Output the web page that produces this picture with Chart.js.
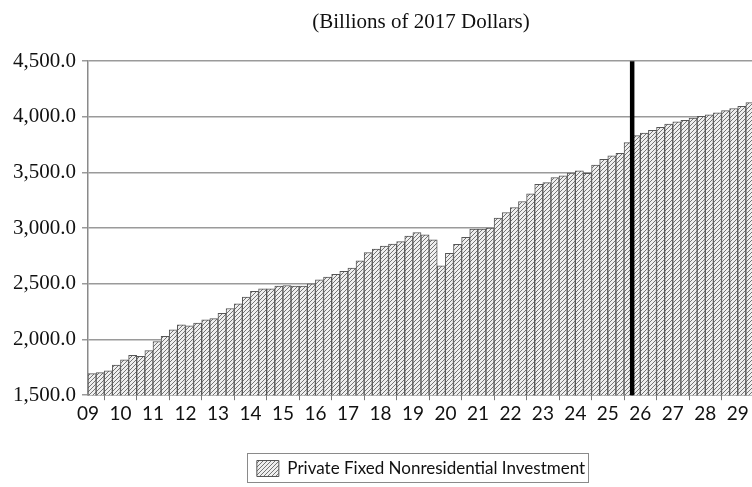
<!DOCTYPE html>
<html>
<head>
<meta charset="utf-8">
<script src="https://cdn.jsdelivr.net/npm/chart.js@4.4.1/dist/chart.umd.min.js"></script>
<style>
  html, body { margin: 0; padding: 0; background: #ffffff; overflow: hidden; width: 752px; height: 487px; }
  #wrap { width: 762px; height: 487px; }
</style>
</head>
<body>
<div id="wrap"><canvas id="c" width="762" height="487"></canvas></div>
<script>
// ---------- DATA ----------
const chartTitle = '(Billions of 2017 Dollars)';
const seriesName = 'Private Fixed Nonresidential Investment';

const quarterLabels = [
  '2009Q3','2009Q4',
  '2010Q1','2010Q2','2010Q3','2010Q4',
  '2011Q1','2011Q2','2011Q3','2011Q4',
  '2012Q1','2012Q2','2012Q3','2012Q4',
  '2013Q1','2013Q2','2013Q3','2013Q4',
  '2014Q1','2014Q2','2014Q3','2014Q4',
  '2015Q1','2015Q2','2015Q3','2015Q4',
  '2016Q1','2016Q2','2016Q3','2016Q4',
  '2017Q1','2017Q2','2017Q3','2017Q4',
  '2018Q1','2018Q2','2018Q3','2018Q4',
  '2019Q1','2019Q2','2019Q3','2019Q4',
  '2020Q1','2020Q2','2020Q3','2020Q4',
  '2021Q1','2021Q2','2021Q3','2021Q4',
  '2022Q1','2022Q2','2022Q3','2022Q4',
  '2023Q1','2023Q2','2023Q3','2023Q4',
  '2024Q1','2024Q2','2024Q3','2024Q4',
  '2025Q1','2025Q2','2025Q3','2025Q4',
  '2026Q1','2026Q2','2026Q3','2026Q4',
  '2027Q1','2027Q2','2027Q3','2027Q4',
  '2028Q1','2028Q2','2028Q3','2028Q4',
  '2029Q1','2029Q2','2029Q3','2029Q4'
];

// history (through 2026Q1)
const actualValues = [
  1694, 1703,
  1718, 1771, 1818, 1859,
  1850, 1900, 1982, 2029,
  2088, 2132, 2124, 2147,
  2176, 2188, 2235, 2279,
  2321, 2382, 2432, 2455,
  2455, 2479, 2485, 2479,
  2479, 2500, 2536, 2561,
  2585, 2612, 2642, 2706,
  2782, 2812, 2839, 2858,
  2879, 2930, 2961, 2940,
  2895, 2662, 2775, 2856,
  2919, 2991, 2991, 3000,
  3090, 3141, 3186, 3240,
  3308, 3395, 3410, 3455,
  3470, 3494, 3515, 3493,
  3568, 3619, 3649, 3673,
  3769
];
// forecast (2026Q2 onward)
const forecastValues = [
  3832, 3855, 3878,
  3907, 3935, 3956, 3970,
  3990, 4005, 4018, 4036,
  4056, 4075, 4095, 4128
];

const tickYears      = ['2009','2010','2011','2012','2013','2014','2015','2016','2017','2018','2019','2020','2021','2022','2023','2024','2025','2026','2027','2028','2029'];
const yearTickLabels = ['09','10','11','12','13','14','15','16','17','18','19','20','21','22','23','24','25','26','27','28','29'];

const yMin = 1500, yMax = 4500, yStep = 500;

// ---------- STYLE ----------
const canvas = document.getElementById('c');
const ctx2d = canvas.getContext('2d');

function makeHatch() {
  const t = document.createElement('canvas');
  t.width = 4; t.height = 4;
  const g = t.getContext('2d');
  g.fillStyle = '#efefef';
  g.fillRect(0, 0, 4, 4);
  g.strokeStyle = '#747474';
  g.lineWidth = 1;
  g.beginPath();
  g.moveTo(0, 4); g.lineTo(4, 0);
  g.moveTo(-1, 1); g.lineTo(1, -1);
  g.moveTo(3, 5); g.lineTo(5, 3);
  g.stroke();
  return ctx2d.createPattern(t, 'repeat');
}
const hatch = makeHatch();

const forecastDivider = {
  id: 'forecastDivider',
  afterDatasetsDraw(chart) {
    const xs = chart.scales.x;
    const i = actualValues.length;
    const px = (xs.getPixelForValue(i - 1) + xs.getPixelForValue(i)) / 2;
    const { top, bottom } = chart.chartArea;
    const c = chart.ctx;
    c.save();
    c.strokeStyle = '#000000';
    c.lineWidth = 4.5;
    c.beginPath();
    c.moveTo(px, top);
    c.lineTo(px, bottom);
    c.stroke();
    c.restore();
  }
};

const legendFrame = {
  id: 'legendFrame',
  afterDraw(chart) {
    const hb = chart.legend && chart.legend.legendHitBoxes && chart.legend.legendHitBoxes[0];
    if (!hb) return;
    const c = chart.ctx;
    c.save();
    c.strokeStyle = '#8a8a8a';
    c.lineWidth = 1;
    c.strokeRect(Math.round(hb.left - 10) + 0.5, Math.round(hb.top - 7) + 0.5, Math.round(hb.width + 13), Math.round(hb.height + 12));
    c.restore();
  }
};

new Chart(canvas, {
  type: 'bar',
  data: {
    labels: quarterLabels,
    datasets: [{
      label: seriesName,
      data: actualValues.concat(forecastValues),
      backgroundColor: hatch,
      borderColor: '#555555',
      borderWidth: 1,
      barPercentage: 1.0,
      categoryPercentage: 1.0
    }]
  },
  options: {
    responsive: false,
    animation: false,
    devicePixelRatio: 1,
    layout: { padding: { left: 0, right: 8, top: 0, bottom: 0 } },
    plugins: {
      title: {
        display: true,
        text: chartTitle,
        fullSize: false,
        color: '#111111',
        font: { family: '"Liberation Serif", "Times New Roman", serif', size: 21, weight: 'normal' },
        padding: { top: 10, bottom: 26 }
      },
      legend: {
        display: true,
        position: 'bottom',
        fullSize: false,
        labels: {
          color: '#111111',
          font: { family: 'Lato, "Open Sans", sans-serif', size: 17 },
          boxWidth: 22,
          boxHeight: 16,
          padding: 33
        }
      },
      tooltip: { enabled: false }
    },
    scales: {
      x: {
        type: 'category',
        offset: true,
        grid: {
          offset: true,
          drawOnChartArea: false,
          drawTicks: true,
          tickLength: 5,
          color: (c) => {
            const lab = quarterLabels[c.index];
            return lab && lab.endsWith('Q1') ? '#777777' : 'rgba(0,0,0,0)';
          }
        },
        border: { display: true, color: '#8a8a8a', width: 1.5 },
        ticks: {
          autoSkip: false,
          maxRotation: 0,
          minRotation: 0,
          labelOffset: -4,
          padding: 2,
          color: '#111111',
          font: { family: 'Lato, "Open Sans", sans-serif', size: 19 },
          callback: function (value, index) {
            const lab = quarterLabels[index];
            if (!lab || !lab.endsWith('Q3')) return '';
            return yearTickLabels[tickYears.indexOf(lab.slice(0, 4))];
          }
        }
      },
      y: {
        min: yMin,
        max: yMax,
        afterFit: (scale) => { scale.width = 88; },
        grid: {
          color: '#9a9a9a',
          lineWidth: 1.5,
          drawTicks: true,
          tickLength: 6
        },
        border: { display: true, color: '#8a8a8a', width: 1.5 },
        ticks: {
          stepSize: yStep,
          padding: 6,
          color: '#111111',
          font: { family: '"Liberation Serif", "Times New Roman", serif', size: 21 },
          callback: (v) => Number(v).toLocaleString('en-US', { minimumFractionDigits: 1, maximumFractionDigits: 1 })
        }
      }
    }
  },
  plugins: [forecastDivider, legendFrame]
});
</script>
</body>
</html>
